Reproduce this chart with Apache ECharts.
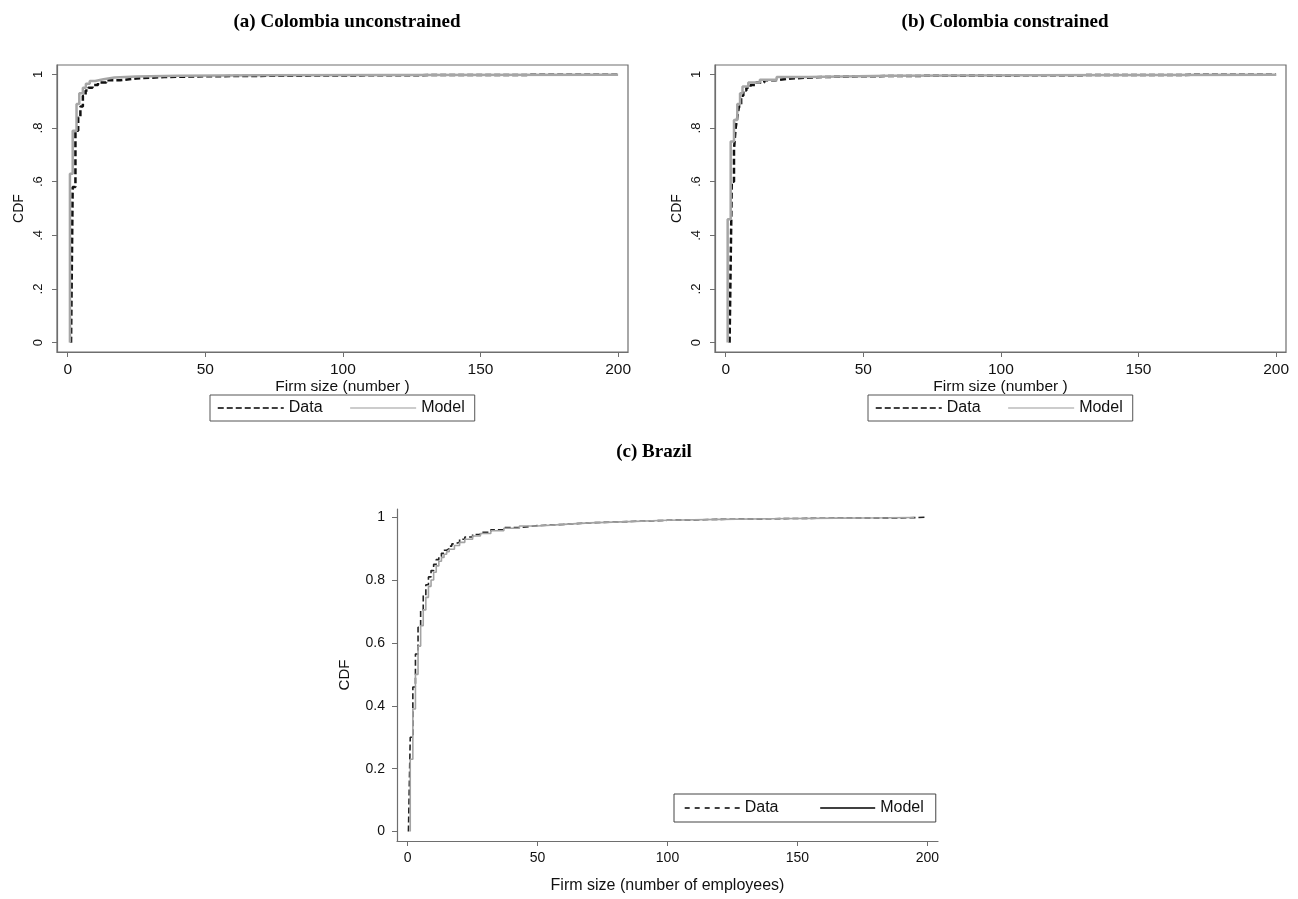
<!DOCTYPE html>
<html>
<head>
<meta charset="utf-8">
<script src="https://cdn.jsdelivr.net/npm/echarts@6/dist/echarts.min.js"></script>
<style>
html,body{margin:0;padding:0;background:#fff;}
#chart{width:1298px;height:899px;}
</style>
</head>
<body>
<div id="chart"></div>
<script>
// ---------- Data (firm size, CDF) ----------
const colUncData = [[1.2,0],[1.8,0.58],[2.8,0.79],[3.8,0.84],[4.6,0.88],[5.5,0.92],[6.5,0.94],[7.5,0.95],[9,0.96],[11,0.97],[14,0.978],[19,0.985],[25,0.99],[35,0.993],[50,0.995],[80,0.997],[120,0.998],[160,0.999],[200,1.0]];
const colUncModel = [[0.8,0],[0.8,0.63],[1.8,0.79],[3.2,0.89],[4.2,0.93],[5.5,0.95],[6.6,0.965],[8,0.975],[10,0.982],[13,0.988],[17,0.992],[25,0.995],[40,0.997],[70,0.998],[120,0.999],[200,1.0]];

const colConData = [[1.4,0],[1.8,0.3],[2.2,0.6],[3.0,0.72],[3.6,0.8],[4.2,0.84],[4.8,0.88],[5.6,0.92],[6.4,0.94],[7.5,0.95],[9,0.96],[11,0.97],[14,0.978],[18,0.985],[24,0.99],[35,0.993],[50,0.995],[80,0.997],[120,0.998],[160,0.999],[200,1.0]];
const colConModel = [[0.7,0],[0.7,0.46],[1.8,0.75],[3.0,0.83],[4.2,0.89],[5.2,0.93],[6.1,0.955],[8.2,0.97],[12.4,0.98],[18.5,0.99],[30,0.995],[60,0.997],[110,0.999],[200,1.0]];

const brazilData = [[0.3,0],[1,0],[1,0.30],[2,0.46],[3,0.565],[4,0.65],[5,0.705],[6,0.75],[7,0.785],[8,0.81],[9,0.83],[10,0.85],[11,0.865],[12,0.875],[13,0.885],[14,0.895],[15,0.9],[16,0.908],[17,0.915],[18,0.92],[20,0.93],[22,0.937],[25,0.945],[28,0.952],[32,0.96],[37,0.967],[43,0.973],[50,0.977],[60,0.982],[70,0.986],[85,0.99],[100,0.993],[120,0.995],[140,0.997],[165,0.998],[193,1.0],[200,1.0]];
const brazilModel = [[1,0],[1,0.23],[2,0.39],[3,0.50],[4,0.59],[5,0.655],[6,0.705],[7,0.745],[8,0.78],[9,0.80],[10,0.825],[11,0.845],[12,0.86],[13,0.872],[14,0.882],[15,0.89],[16,0.898],[18,0.91],[20,0.92],[22,0.93],[25,0.94],[28,0.948],[32,0.957],[37,0.965],[43,0.972],[50,0.977],[60,0.982],[70,0.986],[85,0.99],[100,0.993],[120,0.995],[140,0.997],[165,0.998],[185,0.999],[195,1.0]];

// ---------- Tick values and labels ----------
const xTicks = [0, 50, 100, 150, 200];
const xTickLabels = ['0', '50', '100', '150', '200'];
const yTicks = [0, 0.2, 0.4, 0.6, 0.8, 1];
const colYTickLabels = ['0', '.2', '.4', '.6', '.8', '1'];
const brazilYTickLabels = ['0', '0.2', '0.4', '0.6', '0.8', '1'];

const panelTitles = ['(a) Colombia unconstrained', '(b) Colombia constrained', '(c) Brazil'];
const colXName = 'Firm size (number )';
const brazilXName = 'Firm size (number of employees)';
const yName = 'CDF';
const legendNames = ['Data', 'Model'];

// ---------- helpers ----------
function lab(ticks, labels) {
  return function (v) {
    for (let i = 0; i < ticks.length; i++) if (Math.abs(ticks[i] - v) < 1e-9) return labels[i];
    return '';
  };
}
const SANS = 'Liberation Sans, Arial, sans-serif';
const SERIF = 'Liberation Serif, Times New Roman, serif';
const AX = '#6e6e6e';
const HIDDEN_SYMBOL = {opacity: 0, color: 'rgba(0,0,0,0)', borderWidth: 0};

function xAxisCfg(grid, fontSize, name, nameGap, nameSize, min, max) {
  return {
    type: 'value', gridIndex: grid, min: min, max: max,
    name: name, nameLocation: 'middle', nameGap: nameGap,
    nameTextStyle: {fontFamily: SANS, fontSize: nameSize, color: '#111'},
    axisLine: {show: true, onZero: false, lineStyle: {color: AX, width: 1.2}},
    axisTick: {show: true, length: 5, customValues: xTicks, lineStyle: {color: AX, width: 1}},
    axisLabel: {customValues: xTicks, formatter: lab(xTicks, xTickLabels), fontFamily: SANS, fontSize: fontSize, color: '#111', margin: 10},
    splitLine: {show: false}
  };
}
function yAxisCfg(grid, labels, rotate, fontSize, margin, nameGap, nameSize, min, max) {
  return {
    type: 'value', gridIndex: grid, min: min, max: max,
    name: yName, nameLocation: 'middle', nameGap: nameGap, nameRotate: 90,
    nameTextStyle: {fontFamily: SANS, fontSize: nameSize, color: '#111'},
    axisLine: {show: true, onZero: false, lineStyle: {color: AX, width: 1.2}},
    axisTick: {show: true, length: 5, customValues: yTicks, lineStyle: {color: AX, width: 1}},
    axisLabel: {customValues: yTicks, formatter: lab(yTicks, labels), rotate: rotate, fontFamily: SANS, fontSize: fontSize, color: '#111', margin: margin},
    splitLine: {show: false}
  };
}
function lineSeries(name, data, xi, color, width, dashed) {
  return {
    name: name, type: 'line', step: 'end', xAxisIndex: xi, yAxisIndex: xi,
    data: data, symbol: 'none', showSymbol: false, silent: true,
    lineStyle: {color: color, width: width, type: dashed ? [6, 3] : 'solid'},
    itemStyle: {color: color}
  };
}
function legendCfg(left, top, padding, itemGap, itemWidth, border, dataStyle, modelStyle) {
  return {
    left: left, top: top, orient: 'horizontal', padding: padding, itemGap: itemGap,
    itemWidth: itemWidth, itemHeight: 14, borderColor: border, borderWidth: 1, selectedMode: false,
    textStyle: {fontFamily: SANS, fontSize: 16, color: '#111'},
    data: [{name: legendNames[0], lineStyle: dataStyle, itemStyle: HIDDEN_SYMBOL},
           {name: legendNames[1], lineStyle: modelStyle, itemStyle: HIDDEN_SYMBOL}]
  };
}

const chart = echarts.init(document.getElementById('chart'), null, {renderer: 'canvas'});
const option = {
  animation: false,
  backgroundColor: '#ffffff',
  title: [
    {text: panelTitles[0], left: 342, top: 8, textAlign: 'center', textStyle: {fontFamily: SERIF, fontWeight: 'bold', fontSize: 19, color: '#000'}},
    {text: panelTitles[1], left: 1000, top: 8, textAlign: 'center', textStyle: {fontFamily: SERIF, fontWeight: 'bold', fontSize: 19, color: '#000'}},
    {text: panelTitles[2], left: 649, top: 438, textAlign: 'center', textStyle: {fontFamily: SERIF, fontWeight: 'bold', fontSize: 19, color: '#000'}}
  ],
  grid: [
    {left: 57, top: 65, width: 571, height: 287, show: true, borderColor: AX, borderWidth: 1.2, backgroundColor: '#fff'},
    {left: 715, top: 65, width: 571, height: 287, show: true, borderColor: AX, borderWidth: 1.2, backgroundColor: '#fff'},
    {left: 397, top: 509, width: 541, height: 332, show: false}
  ],
  xAxis: [
    xAxisCfg(0, 15.5, colXName, 19, 15.5, -3.9, 203.6),
    xAxisCfg(1, 15.5, colXName, 19, 15.5, -3.9, 203.6),
    xAxisCfg(2, 14, brazilXName, 37, 16, -4.1, 204.1)
  ],
  yAxis: [
    yAxisCfg(0, colYTickLabels, 90, 13, 12, 31, 14, -0.035, 1.035),
    yAxisCfg(1, colYTickLabels, 90, 13, 12, 31, 14, -0.035, 1.035),
    yAxisCfg(2, brazilYTickLabels, 0, 14, 12, 45, 15, -0.03, 1.026)
  ],
  legend: [
    legendCfg(210, 395, [5, 10, 5, 7], 27, 66, '#555', {color: '#000', width: 1.5, type: [6, 3]}, {color: '#999', width: 1.2, type: 'solid'}),
    legendCfg(868, 395, [5, 10, 5, 7], 27, 66, '#555', {color: '#000', width: 1.5, type: [6, 3]}, {color: '#999', width: 1.2, type: 'solid'}),
    legendCfg(674, 794, [6, 12, 6, 10], 41, 55, '#444', {color: '#000', width: 1.4, type: [5, 5]}, {color: '#000', width: 1.4, type: 'solid'})
  ],
  series: [
    lineSeries(legendNames[0], colUncData, 0, '#111', 2.5, true),
    lineSeries(legendNames[1], colUncModel, 0, '#a6a6a6', 2.5, false),
    lineSeries(legendNames[0], colConData, 1, '#111', 2.5, true),
    lineSeries(legendNames[1], colConModel, 1, '#a6a6a6', 2.5, false),
    lineSeries(legendNames[0], brazilData, 2, '#222', 1.6, true),
    lineSeries(legendNames[1], brazilModel, 2, '#a3a3a3', 1.6, false)
  ]
};
chart.setOption(option);
</script>
</body>
</html>
